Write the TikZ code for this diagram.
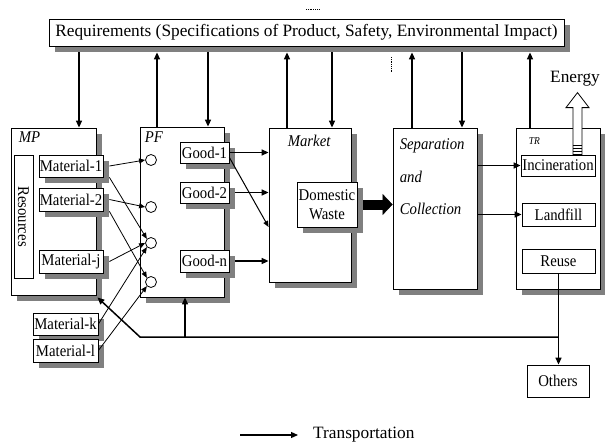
\documentclass[tikz,border=0pt]{standalone}
\usepackage{fontspec}
\setmainfont{Liberation Serif}[FakeStretch=0.9]
\newfontfamily\plainfont{Liberation Serif}
\usetikzlibrary{arrows.meta,positioning,shadows,calc}
\newcommand\boxfont{\fontsize{16.4}{19}\selectfont}
\newcommand\bigfont{\plainfont\fontsize{17.3}{19}\selectfont}

\begin{document}
\begin{tikzpicture}[x=1pt, y=-1pt,
  every node/.style={font=\boxfont},
  box/.style={draw, fill=white, line width=0.8pt, inner sep=0pt, align=center},
  shbox/.style={box, drop shadow={shadow xshift=6pt, shadow yshift=-6pt, opacity=1, fill=black!50}},
  ttl/.style={font=\itshape\boxfont, anchor=base west, inner sep=0pt},
  port/.style={circle, draw, fill=white, line width=0.8pt, minimum size=11pt, inner sep=0pt},
  arr/.style={-{Triangle[length=7pt,width=6pt]}, line width=1.5pt},
  tarr/.style={-{Triangle[length=6pt,width=5pt]}, line width=0.8pt},
  blk/.style={-{Triangle[length=10pt,width=21pt,line width=0.4pt]}, line width=10pt}
]
  \fill[white] (0,0) rectangle (605,444);
  \useasboundingbox (0,0) rectangle (605,444);

  % requirements on top
  \node[shbox, minimum width=515, minimum height=27, font=\bigfont] (req) at (306.5,32.5)
    {Requirements (Specifications of Product, Safety, Environmental Impact)};
  \coordinate (reqs) at ([yshift=-6pt]req.south);
  \draw[densely dotted, line width=0.8pt] (306,9) -- (320,9);
  \draw[densely dotted, line width=0.8pt] (391,57) -- (391,72);

  % MP
  \node[shbox, minimum width=85, minimum height=167] (mp) at (53.5,211.5) {};
  \node[ttl] (mplbl) at ([xshift=8pt,yshift=-15pt]mp.north west) {MP};
  \node[box, minimum width=19, minimum height=123] (res) at (23.5,216.5) {};
  \node[rotate=-90, inner sep=0pt] (restxt) at (res) {Resources};
  \node[shbox, minimum width=64, minimum height=22] (mat1) at (71,166) {Material-1};
  \node[shbox, minimum width=64, minimum height=23] (mat2) at (71,199.5) {Material-2};
  \node[shbox, minimum width=64, minimum height=23] (matj) at (71,261.5) {Material-j};
  \node[shbox, minimum width=65, minimum height=22] (matk) at (65.5,324) {Material-k};
  \node[shbox, minimum width=65, minimum height=23] (matl) at (65.5,350.5) {Material-l};

  % PF
  \node[shbox, minimum width=84, minimum height=170] (pf) at (182,212) {};
  \node[ttl] (pflbl) at ([xshift=5pt,yshift=-16pt]pf.north west) {PF};
  \node[port] (c1) at (151,160) {};
  \node[port] (c2) at (151,207) {};
  \node[port] (c3) at (151,243) {};
  \node[port] (c4) at (151,282) {};
  \node[shbox, minimum width=49, minimum height=21] (good1) at (204.5,152.5) {Good-1};
  \node[shbox, minimum width=49, minimum height=21] (good2) at (204.5,192.5) {Good-2};
  \node[shbox, minimum width=49, minimum height=22] (goodn) at (204.5,261) {Good-n};

  % market
  \node[shbox, minimum width=82, minimum height=154] (market) at (310,205) {};
  \node[ttl] (mklbl) at ([xshift=19pt,yshift=-19pt]market.north west) {Market};
  \node[shbox, minimum width=60, minimum height=45] (dw) at (327,204.5) {Domestic\\Waste};

  % separation and collection
  \node[shbox, minimum width=84, minimum height=161] (sep) at (435,208.5) {};
  \node[ttl] (sepa) at ([xshift=7pt,yshift=-22pt]sep.north west) {Separation};
  \node[ttl] (sepb) at ([yshift=-32.5pt]sepa.base west) {and};
  \node[ttl] (sepc) at ([yshift=-32.5pt]sepb.base west) {Collection};

  % TR
  \node[shbox, minimum width=84, minimum height=161] (tr) at (558,208.5) {};
  \node[ttl, font=\itshape\fontsize{10.5}{12}\selectfont] (trlbl) at ([xshift=13pt,yshift=-17pt]tr.north west) {TR};
  \node[box, minimum width=74, minimum height=21] (incin) at (558,165.5) {Incineration};
  \node[box, minimum width=73, minimum height=23] (landfill) at (558.5,214.5) {Landfill};
  \node[box, minimum width=73, minimum height=24] (reuse) at (558.5,261) {Reuse};
  \node[box, minimum width=62, minimum height=32] (others) at (558,381) {Others};

  % energy out of incineration
  \node[font=\bigfont] (energy) at (575,79) {Energy};
  \coordinate (eb) at ([xshift=19.5pt]incin.north);
  \draw[fill=white, line width=0.8pt] ([xshift=-4.5pt]eb) -- ++(0,-47) -- ++(-7,0) -- ++(11.5,-15)
    -- ++(11.5,15) -- ++(-7,0) -- ++(0,47) -- cycle;
  \foreach \d in {3,6,9}
    \draw[line width=0.8pt] ([xshift=-4.5pt,yshift=\d pt]eb) -- ++(9,0);

  % links with the requirements
  \foreach \xx/\tgt in {79/mp,208/pf,332/market,462/sep}
    \draw[arr] (\xx,0 |- reqs) -- (\xx,0 |- \tgt.north);
  \foreach \xx/\src in {157/pf,287/market,412/sep,530/tr}
    \draw[arr] (\xx,0 |- \src.north) -- (\xx,0 |- reqs);

  % materials into processes
  \draw[tarr] ([xshift=6pt]mat1.east) -- (c1.west);
  \draw[tarr] ([xshift=6pt]mat1.south east) -- (c3.north west);
  \draw[tarr] ([xshift=6pt]mat2.east) -- (c2.west);
  \draw[tarr] ([xshift=6pt]mat2.south east) -- (c4.north west);
  \draw[tarr] ([xshift=6pt]matj.east) -- (c3.west);
  \draw[tarr] (matk.east) -- (c3.south west);
  \draw[tarr] (matl.east) -- (c4.south west);

  % goods to market
  \draw[arr] (good1.east) -- (good1.east -| market.west);
  \draw[tarr, line width=1pt] ([yshift=-5pt]good1.east) -- ([yshift=-22pt]market.west);
  \draw[arr] ([xshift=6pt]good2.east) -- (good2.east -| market.west);
  \draw[arr] ([xshift=6pt]goodn.east) -- (goodn.east -| market.west);

  % waste flow
  \draw[blk] ([xshift=6pt]dw.east) -- (dw.east -| sep.west);
  \draw[arr] (sep.east |- incin) -- (incin.west);
  \draw[arr] (sep.east |- landfill) -- (landfill.west);

  % reuse back to production
  \coordinate (rj) at (reuse.south |- 0,337);
  \coordinate (rc) at (140,337);
  \draw[arr] (reuse.south) -- (reuse.south |- others.north);
  \draw[arr] (rj) -- (rc) -- ([xshift=1pt,yshift=-2pt]mp.south east);
  \draw[arr] ([xshift=3pt]pf.south |- rc) -- ([xshift=3pt]pf.south);

  % legend
  \node[font=\bigfont, anchor=base west, inner sep=0pt] (legtxt) at (313,438.5) {Transportation};
  \coordinate (legstart) at (240,435);
  \draw[arr, line width=1.2pt] (legstart) -- ([xshift=-15pt]legtxt.west |- legstart);
\end{tikzpicture}
\end{document}
